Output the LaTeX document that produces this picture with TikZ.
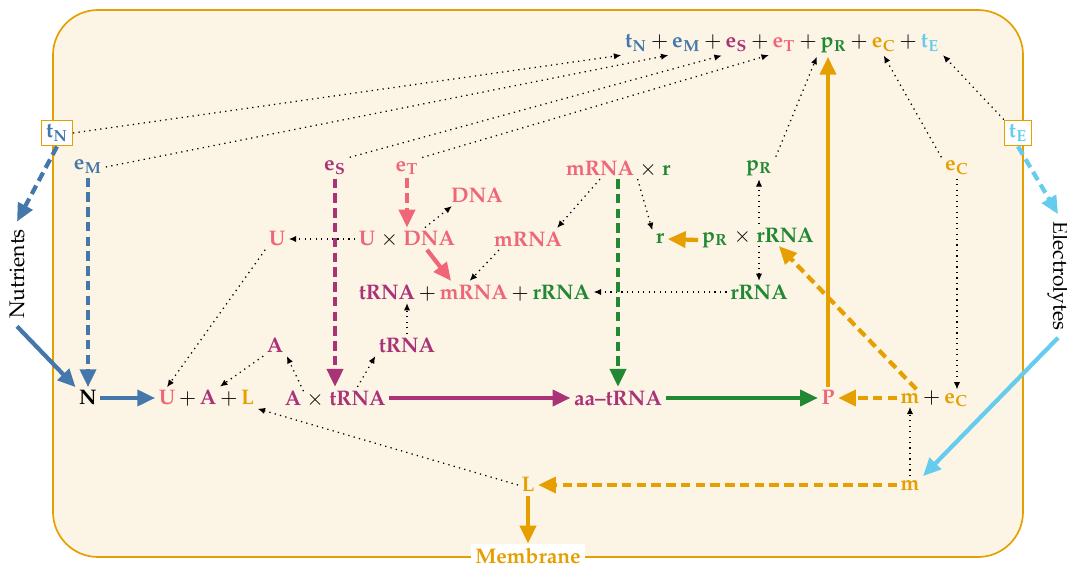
\documentclass[tikz,border=0pt]{standalone}
\usepackage[T1]{fontenc}
\usepackage{mathpazo}
\usepackage{mathtools}
\usepackage{tikz}
\usetikzlibrary{positioning,arrows.meta}
\definecolor{tolblue}{HTML}{4477AA}
\definecolor{tolcyan}{HTML}{66CCEE}
\definecolor{tolgreen}{HTML}{228833}
\definecolor{tolred}{HTML}{EE6677}
\definecolor{tolpurple}{HTML}{AA3377}
\definecolor{corange}{HTML}{E69F00}

\begin{document}
\begin{tikzpicture}[x=0.016667cm,y=-0.016667cm,
	lbl/.style={font=\bfseries,inner sep=1.5pt},
	op/.style={inner sep=0.4pt},
	times/.style={inner xsep=1.2pt,inner ysep=0.4pt},
	nxt/.style={base right=-0.6pt of #1},
	dots/.style={dotted,line width=0.6pt,-{Latex[length=3.5pt,width=3pt]}},
	flow/.style={line width=2pt,-{Triangle[length=8.5pt,width=7.5pt]}},
	dflow/.style={flow,dash pattern=on 4.5pt off 2.5pt},
	tbox/.style={draw=corange,fill=white,line width=0.6pt,inner sep=2pt}]
	\useasboundingbox (0,0) rectangle (1067,566);
	\draw[corange,fill=corange!10,line width=0.8pt,rounded corners=0.75cm] (53,10) rectangle (1023,557);

	\node[lbl,tolblue] (ttN) at (636,43) {$\mathbf{t_N}$};
	\node[op,nxt=ttN] (p1) {$+$};
	\node[lbl,tolblue,nxt=p1] (teM) {$\mathbf{e_M}$};
	\node[op,nxt=teM] (p2) {$+$};
	\node[lbl,tolpurple,nxt=p2] (teS) {$\mathbf{e_S}$};
	\node[op,nxt=teS] (p3) {$+$};
	\node[lbl,tolred,nxt=p3] (teT) {$\mathbf{e_T}$};
	\node[op,nxt=teT] (p4) {$+$};
	\node[lbl,tolgreen,nxt=p4] (tpR) {$\mathbf{p_R}$};
	\node[op,nxt=tpR] (p5) {$+$};
	\node[lbl,corange,nxt=p5] (teC) {$\mathbf{e_C}$};
	\node[op,nxt=teC] (p6) {$+$};
	\node[lbl,tolcyan,nxt=p6] (ttE) {$\mathbf{t_E}$};

	\node[tbox,text=tolblue] (tNbox) at (57,133) {$\mathbf{t_N}$};
	\node[tbox,text=tolcyan] (tEbox) at (1018,133) {$\mathbf{t_E}$};
	\node[rotate=90] (Nut) at (17,274) {Nutrients};
	\node[rotate=-90] (Elec) at (1058,276) {Electrolytes};

	\node[lbl,tolblue] (eM) at (88,167) {$\mathbf{e_M}$};
	\node[lbl,tolpurple] (eS) at (335,168) {$\mathbf{e_S}$};
	\node[lbl,tolred] (eT) at (407,168) {$\mathbf{e_T}$};
	\node[lbl,tolgreen] (pRfree) at (759,168) {$\mathbf{p_R}$};
	\node[lbl,corange] (eCfree) at (957,168) {$\mathbf{e_C}$};

	\node[lbl,tolred] (mxM) at (600,168) {mRNA};
	\node[times,nxt=mxM] (mxX) {$\times$};
	\node[lbl,tolgreen,nxt=mxX] (mxR) {r};

	\node[lbl,tolred] (DNAfree) at (477,195) {DNA};
	\node[lbl,tolred] (Ufree) at (277,239) {U};
	\node[lbl,tolred] (uxU) at (367,239) {U};
	\node[times,nxt=uxU] (uxX) {$\times$};
	\node[lbl,tolred,nxt=uxX] (uxDNA) {DNA};
	\node[lbl,tolred] (mRNAfree) at (528,239) {mRNA};
	\node[lbl,tolgreen] (rfree) at (660,239) {r};
	\node[lbl,tolgreen] (pxP) at (715,240) {$\mathbf{p_R}$};
	\node[times,nxt=pxP] (pxX) {$\times$};
	\node[lbl,tolgreen,nxt=pxX] (pxR) {rRNA};

	\node[lbl,tolpurple] (sT) at (387,292) {tRNA};
	\node[op,nxt=sT] (sP1) {$+$};
	\node[lbl,tolred,nxt=sP1] (sM) {mRNA};
	\node[op,nxt=sM] (sP2) {$+$};
	\node[lbl,tolgreen,nxt=sP2] (sR) {rRNA};
	\node[lbl,tolgreen] (rRNAfree) at (759,292) {rRNA};

	\node[lbl,tolpurple] (Afree) at (275,345) {A};
	\node[lbl,tolpurple] (tRNAfree) at (407,345) {tRNA};

	\node[lbl] (N) at (88,398) {N};
	\node[lbl,tolred] (ualU) at (167,398) {U};
	\node[op,nxt=ualU] (ualP1) {$+$};
	\node[lbl,tolpurple,nxt=ualP1] (ualA) {A};
	\node[op,nxt=ualA] (ualP2) {$+$};
	\node[lbl,corange,nxt=ualP2] (ualL) {L};
	\node[lbl,tolpurple] (axA) at (293,398) {A};
	\node[times,nxt=axA] (axX) {$\times$};
	\node[lbl,tolpurple,nxt=axX] (axT) {tRNA};
	\node[lbl,tolpurple] (aa) at (618,398) {aa--tRNA};
	\node[lbl,tolred] (P) at (828,398) {P};
	\node[lbl,corange] (meM) at (910,398) {m};
	\node[op,nxt=meM] (meP) {$+$};
	\node[lbl,corange,nxt=meP] (meC) {$\mathbf{e_C}$};

	\node[lbl,corange] (L) at (528,485) {L};
	\node[lbl,corange] (mfree) at (910,485) {m};
	\node[lbl,corange,fill=white,inner sep=2pt] (Mem) at (528,556) {Membrane};

	\draw[dots] (tNbox.east) -- (ttN.south west);
	\draw[dots] (eM.east) -- (teM.south west);
	\draw[dots] (eS.north east) -- (teS.south west);
	\draw[dots] (eT.north east) -- (teT.south west);
	\draw[dots] (pRfree.north east) -- (tpR.south west);
	\draw[dots] (eCfree.north west) -- (teC.south);
	\draw[dots] (tEbox.north west) -- (ttE.south east);

	\draw[dflow,tolblue] (tNbox.south) -- (Nut.east);
	\draw[flow,tolblue] (Nut.west) -- (N.north west);
	\draw[dflow,tolblue] (eM.south) -- (N.north);
	\draw[flow,tolblue] (N.east) -- (ualU.west);
	\draw[dflow,tolcyan] (tEbox.south) -- (Elec.west);
	\draw[flow,tolcyan] (Elec.east) -- (mfree.north east);

	\draw[dots] (Ufree.south west) -- (ualU.north);
	\draw[dots] (Afree.south west) -- (ualA.north east);
	\draw[dots] (axX.north west) -- (Afree.south east);
	\draw[dots] (axT.north) -- (tRNAfree.south west);
	\draw[dots] (L.west) -- (ualL.south east);
	\draw[dots] (uxU.west) -- (Ufree.east);
	\draw[dots] ([xshift=-2pt]uxDNA.north) -- ([xshift=2pt]DNAfree.south west);
	\draw[dots] (mxM.south) -- ([xshift=-4pt]mRNAfree.north east);
	\draw[dots] ([xshift=4pt]mRNAfree.south west) -- ([xshift=-2pt]sM.north);
	\draw[dots] (tRNAfree.north) -- (tRNAfree.north |- sT.south);
	\draw[dots] (rRNAfree.west) -- (sR.east);
	\draw[dots] (mxM.south east) -- (rfree.north west);
	\draw[dots] (pRfree.south |- pxR.north) -- (pRfree.south);
	\draw[dots] (rRNAfree.north |- pxR.south) -- (rRNAfree.north);
	\draw[dots] (eCfree.south) -- (eCfree.south |- meC.north);
	\draw[dots] (mfree.north) -- (meM.south);

	\draw[dflow,tolpurple] (eS.south) -- (eS.south |- axT.north);
	\draw[dflow,tolred] (eT.south) -- (eT.south |- uxDNA.north);
	\draw[flow,tolred] ([xshift=-1pt]uxDNA.south) -- ([xshift=7pt]sM.north west);
	\draw[flow,tolpurple] (axT.east) -- (aa.west);
	\draw[dflow,tolgreen] (aa.north |- mxM.south) -- (aa.north);
	\draw[flow,tolgreen] (aa.east) -- (P.west);
	\draw[flow,corange] (pxP.west) -- (rfree.east);
	\draw[dflow,corange] ([xshift=3pt]meM.north) -- ([xshift=-3pt]pxR.south);
	\draw[dflow,corange] (meM.west) -- (P.east);
	\draw[flow,corange] (P.north) -- (P.north |- tpR.south);
	\draw[dflow,corange] (mfree.west) -- (L.east);
	\draw[flow,corange] (L.south) -- (L.south |- Mem.north);
\end{tikzpicture}
\end{document}
